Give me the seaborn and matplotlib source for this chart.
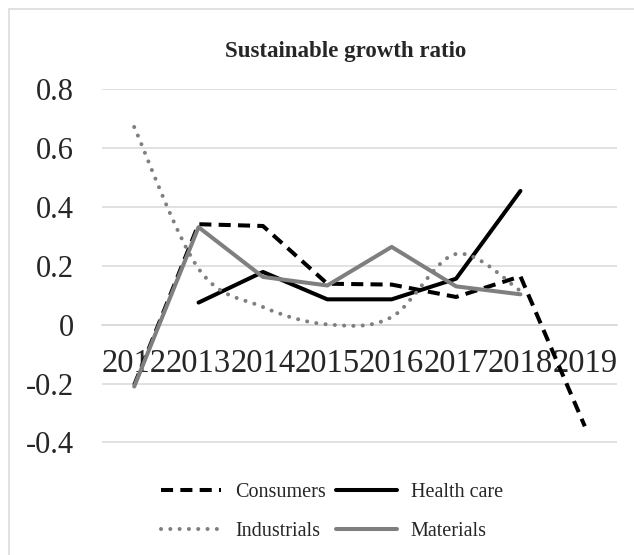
import matplotlib
matplotlib.use("Agg")
import matplotlib.pyplot as plt
import matplotlib.patches as mpatches
from matplotlib.path import Path
from matplotlib.lines import Line2D
import seaborn as sns
import pandas as pd
import numpy as np

years = ["2012", "2013", "2014", "2015", "2016", "2017", "2018", "2019"]
consumers = [-0.205, 0.341, 0.335, 0.139, 0.136, 0.094, 0.164, -0.345]
health_care = [np.nan, 0.075, 0.179, 0.086, 0.086, 0.156, 0.454, np.nan]
industrials = [0.671, 0.19, 0.06, 0.001, 0.026, 0.24, 0.115, np.nan]
materials = [-0.21, 0.331, 0.162, 0.133, 0.264, 0.13, 0.103, np.nan]

black = "#000000"
gray = "#7f7f7f"
grid_col = "#d9d9d9"

sns.set_style("white")
plt.rcParams['font.family'] = ['Liberation Serif', 'DejaVu Serif']

W, H = 634, 555
fig = plt.figure(figsize=(W / 100, H / 100), dpi=100)
ax = fig.add_axes([102 / W, 1 - 442.5 / H, (617 - 102) / W, (442.5 - 89) / H])

xpos = np.arange(len(years))
df = pd.DataFrame({"x": xpos, "Consumers": consumers, "Health care": health_care,
                   "Industrials": industrials, "Materials": materials})

lw = 2.9
sns.lineplot(data=df, x="x", y="Consumers", ax=ax, color=black, lw=lw,
             linestyle=(0, (3.0, 1.8)), sort=False, estimator=None, zorder=3)
sns.lineplot(data=df, x="x", y="Health care", ax=ax, color=black, lw=lw,
             solid_capstyle="round", sort=False, estimator=None, zorder=4)

# smoothed dotted line (Excel style smooth line) as a bezier path
ind = df[["x", "Industrials"]].dropna().values
verts = [tuple(ind[0])]
codes = [Path.MOVETO]
n = len(ind)
for i in range(n - 1):
    p0 = ind[i - 1] if i > 0 else ind[i]
    p1 = ind[i]
    p2 = ind[i + 1]
    p3 = ind[i + 2] if i + 2 < n else ind[i + 1]
    c1 = p1 + (p2 - p0) / 6.0
    c2 = p2 - (p3 - p1) / 6.0
    verts += [tuple(c1), tuple(c2), tuple(p2)]
    codes += [Path.CURVE4] * 3
dots = mpatches.PathPatch(Path(verts, codes), fill=False, edgecolor=gray, lw=lw,
                          linestyle=(0, (0.01, 2.3)), capstyle="round", zorder=5)
ax.add_patch(dots)

sns.lineplot(data=df, x="x", y="Materials", ax=ax, color=gray, lw=lw,
             solid_capstyle="round", sort=False, estimator=None, zorder=6)

ax.set_xlim(-0.5, len(years) - 0.5)
ax.set_ylim(-0.4, 0.8)
yt = [-0.4, -0.2, 0, 0.2, 0.4, 0.6, 0.8]
ax.set_yticks(yt)
ax.set_yticklabels(["-0.4", "-0.2", "0", "0.2", "0.4", "0.6", "0.8"])
ax.set_xticks(xpos)
ax.set_xticklabels(years)
ax.tick_params(axis="y", length=0, pad=20, labelsize=22)
ax.tick_params(axis="x", length=0, pad=17, labelsize=23.5)
ax.set_xlabel("")
ax.set_ylabel("")
for s in ["top", "right", "left"]:
    ax.spines[s].set_visible(False)
ax.spines["bottom"].set_position(("data", 0))
ax.spines["bottom"].set_color(grid_col)
ax.spines["bottom"].set_linewidth(1.1)
ax.grid(axis="y", color=grid_col, lw=1.1)
ax.set_axisbelow(True)
if ax.get_legend():
    ax.get_legend().remove()

fig.text(346 / W, 1 - 57 / H, "Sustainable growth ratio", ha="center", va="baseline",
         fontsize=16.5, fontweight="bold")

handles = [
    Line2D([], [], color=black, lw=lw, linestyle=(0, (3.0, 1.8))),
    Line2D([], [], color=gray, lw=lw, linestyle=(0, (0.01, 2.3)), dash_capstyle="round"),
    Line2D([], [], color=black, lw=lw, solid_capstyle="round"),
    Line2D([], [], color=gray, lw=lw, solid_capstyle="round"),
]
labels = ["Consumers", "Industrials", "Health care", "Materials"]
fig.legend(handles, labels, loc="center", bbox_to_anchor=(332 / W, 1 - 512 / H),
           ncol=2, frameon=False, fontsize=14.5, handlelength=3.0,
           handletextpad=0.7, columnspacing=0.5, labelspacing=0.95, borderpad=0)

fig.patches.append(mpatches.Rectangle((9 / W, -0.2), 2.0, (H - 9) / H + 0.2,
                                      transform=fig.transFigure, fill=False,
                                      edgecolor=grid_col, lw=1.1, figure=fig))

fig.savefig("out.png", dpi=100)
